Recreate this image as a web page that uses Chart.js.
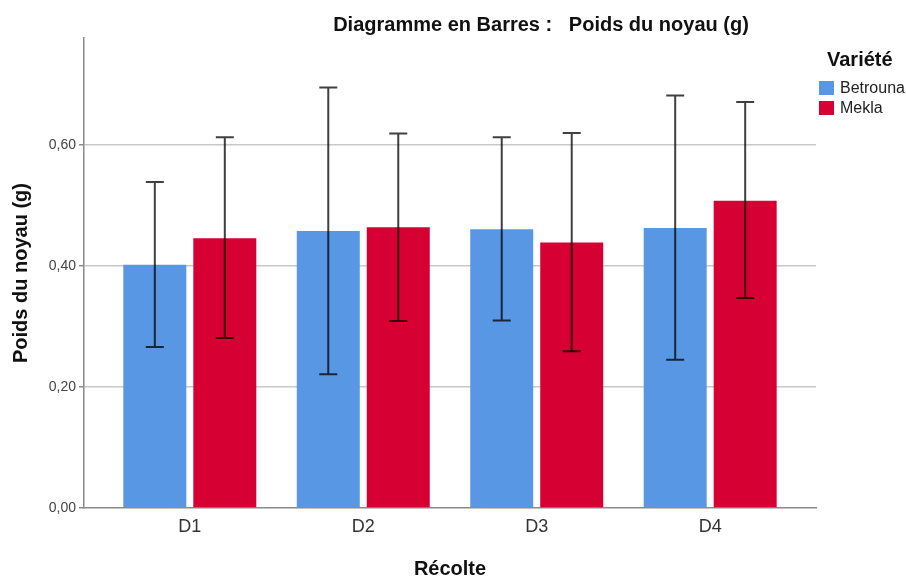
<!DOCTYPE html>
<html>
<head>
<meta charset="utf-8">
<script src="https://cdn.jsdelivr.net/npm/chart.js@4"></script>
<style>
  html, body { margin: 0; padding: 0; background: #fff; }
</style>
</head>
<body>
<canvas id="graficaPoids" width="906" height="578"></canvas>
<script>
var categories = ['D1', 'D2', 'D3', 'D4'];
var seriesNames = ['Betrouna', 'Mekla'];
var betrouna = [0.402, 0.458, 0.461, 0.463];
var betrounaLow = [0.266, 0.221, 0.310, 0.245];
var betrounaHigh = [0.539, 0.695, 0.613, 0.682];
var mekla = [0.446, 0.464, 0.439, 0.508];
var meklaLow = [0.281, 0.309, 0.259, 0.347];
var meklaHigh = [0.613, 0.619, 0.620, 0.671];
var yTicks = [0, 0.2, 0.4, 0.6];

var police = '"Liberation Sans", Arial, sans-serif';

// barres d'erreur + titre + légende dessinés sur le canvas
var pluginExtras = {
    id: 'extras',
    afterDatasetsDraw: function (chart) {
        var ctx = chart.ctx;
        var y = chart.scales.y;
        ctx.save();
        ctx.strokeStyle = 'rgba(0, 0, 0, 0.75)';
        ctx.lineWidth = 2;
        chart.data.datasets.forEach(function (ds, i) {
            var meta = chart.getDatasetMeta(i);
            meta.data.forEach(function (bar, j) {
                var yl = y.getPixelForValue(ds.errLow[j]);
                var yh = y.getPixelForValue(ds.errHigh[j]);
                ctx.beginPath();
                ctx.moveTo(bar.x, yl);
                ctx.lineTo(bar.x, yh);
                ctx.moveTo(bar.x - 9, yl);
                ctx.lineTo(bar.x + 9, yl);
                ctx.moveTo(bar.x - 9, yh);
                ctx.lineTo(bar.x + 9, yh);
                ctx.stroke();
            });
        });
        ctx.restore();
    },
    afterDraw: function (chart) {
        var ctx = chart.ctx;
        ctx.save();
        ctx.fillStyle = '#111';
        ctx.font = 'bold 20px ' + police;
        ctx.textAlign = 'center';
        ctx.textBaseline = 'middle';
        ctx.fillText('Diagramme en Barres :   Poids du noyau (g)', 541, 25);

        ctx.textAlign = 'left';
        ctx.font = 'bold 20px ' + police;
        ctx.fillText('Variété', 827, 60);
        ctx.font = '16px ' + police;
        chart.data.datasets.forEach(function (ds, i) {
            var yy = 81 + i * 20;
            ctx.fillStyle = ds.backgroundColor;
            ctx.fillRect(819, yy, 15, 14);
            ctx.fillStyle = '#222';
            ctx.fillText(ds.label, 840, yy + 8);
        });
        ctx.restore();
    }
};

var ctx = document.getElementById('graficaPoids').getContext('2d');
var myChart = new Chart(ctx, {
    type: 'bar',
    data: {
        datasets: [{
            label: seriesNames[0],
            data: betrouna.map(function (v, i) { return { x: i + 1, y: v }; }),
            errLow: betrounaLow,
            errHigh: betrounaHigh,
            backgroundColor: '#5797e4'
        }, {
            label: seriesNames[1],
            data: mekla.map(function (v, i) { return { x: i + 1, y: v }; }),
            errLow: meklaLow,
            errHigh: meklaHigh,
            backgroundColor: '#d60032'
        }]
    },
    options: {
        responsive: false,
        animation: false,
        barPercentage: 0.9,
        categoryPercentage: 0.807,
        layout: { padding: { top: 38, right: 90, left: 0, bottom: 0 } },
        plugins: {
            legend: { display: false },
            tooltip: { enabled: false }
        },
        scales: {
            x: {
                type: 'linear',
                offset: false,
                min: 0.39,
                max: 4.61,
                grid: { display: false, drawTicks: false },
                border: { color: '#8a8a8a', width: 1.5 },
                afterBuildTicks: function (scale) {
                    scale.ticks = categories.map(function (c, i) { return { value: i + 1 }; });
                },
                afterFit: function (scale) { scale.height = 70; },
                ticks: {
                    includeBounds: false,
                    padding: 8,
                    color: '#333',
                    font: { family: police, size: 18 },
                    callback: function (v) { return categories[v - 1]; }
                },
                title: {
                    display: true,
                    text: 'Récolte',
                    color: '#111',
                    padding: { top: 10, bottom: -3 },
                    font: { family: police, size: 20, weight: 'bold' }
                }
            },
            y: {
                min: 0,
                max: 0.777,
                afterBuildTicks: function (scale) {
                    scale.ticks = yTicks.map(function (v) { return { value: v }; });
                },
                afterFit: function (scale) { scale.width = 84; },
                border: { color: '#8a8a8a', width: 1.5 },
                grid: {
                    color: function (c) { return c.tick && c.tick.value === 0 ? 'rgba(0,0,0,0)' : '#c8c8c8'; },
                    lineWidth: 1.5,
                    tickColor: '#8a8a8a',
                    tickLength: 5
                },
                ticks: {
                    includeBounds: false,
                    padding: 3,
                    color: '#444',
                    font: { family: police, size: 14 },
                    callback: function (v) { return v.toFixed(2).replace('.', ','); }
                },
                title: {
                    display: true,
                    text: 'Poids du noyau (g)',
                    color: '#111',
                    padding: { top: 9 },
                    font: { family: police, size: 20, weight: 'bold' }
                }
            }
        }
    },
    plugins: [pluginExtras]
});
</script>
</body>
</html>
